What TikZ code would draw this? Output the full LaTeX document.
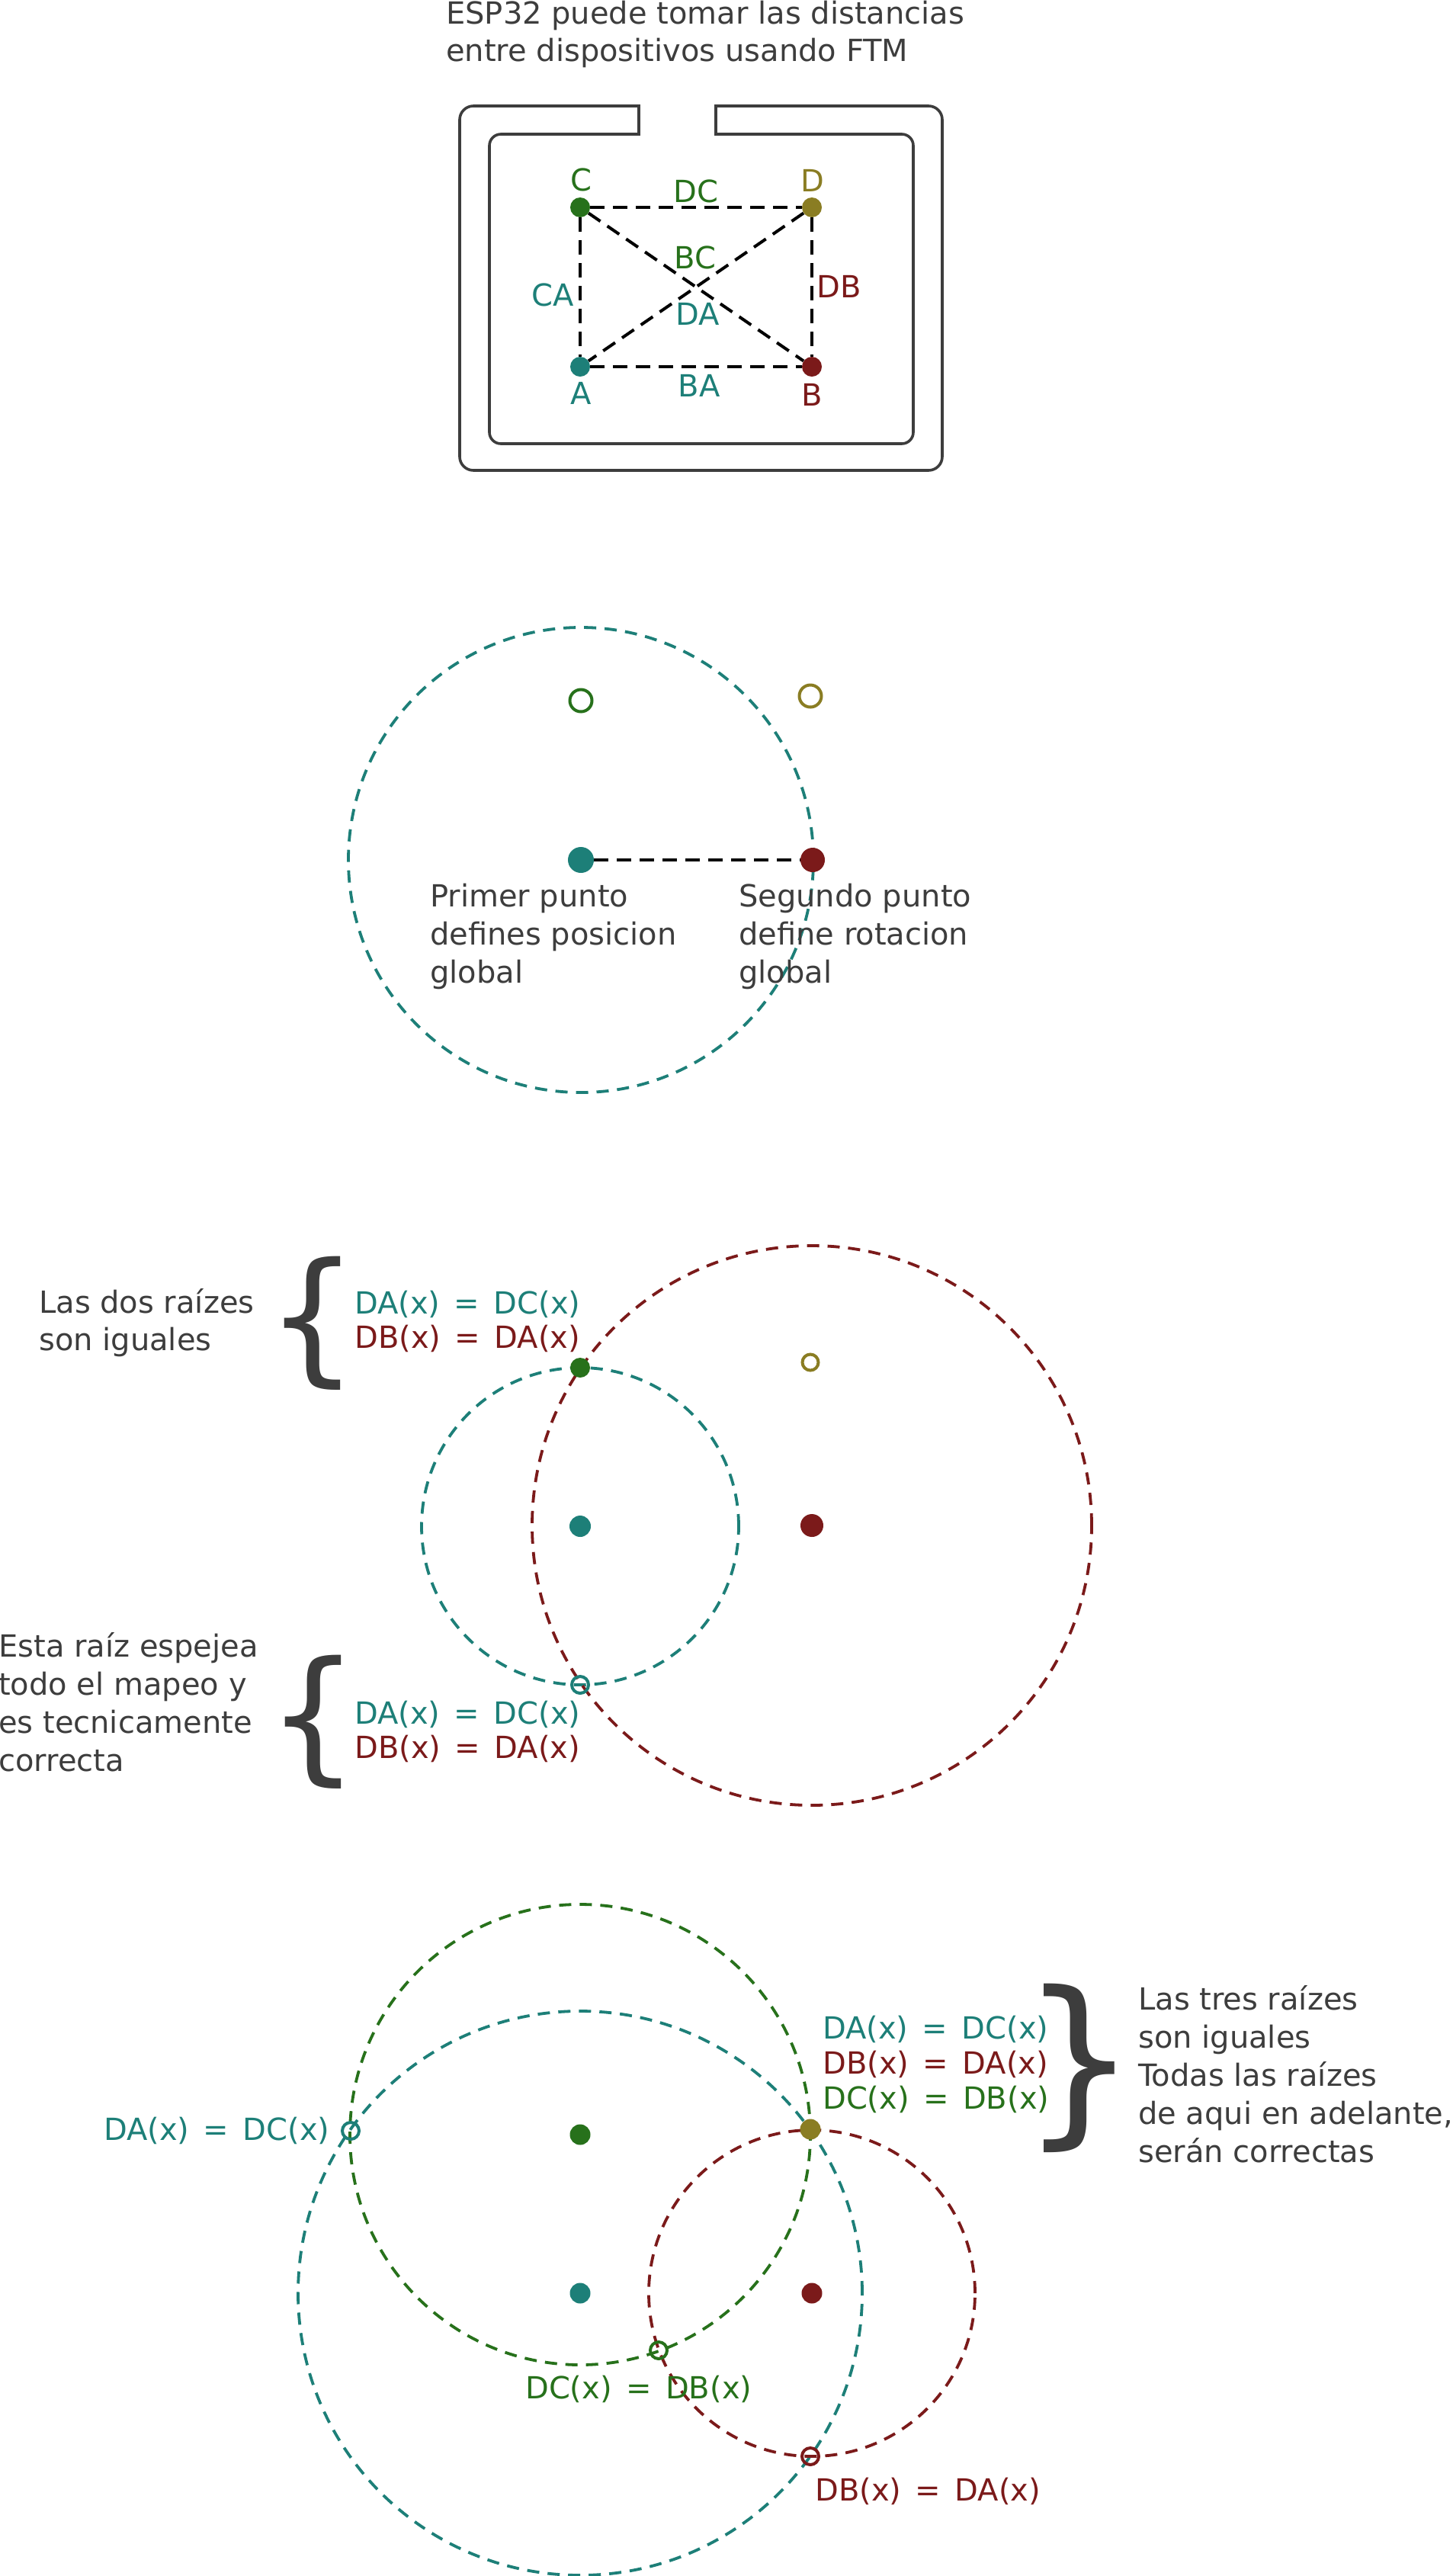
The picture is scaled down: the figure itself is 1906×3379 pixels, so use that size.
\documentclass[tikz,border=0pt]{standalone}
\usepackage{fontspec}
\setmainfont{DejaVu Sans}
\newfontfamily\eqfont[WordSpace=1.45]{DejaVu Sans}
\definecolor{cteal}{HTML}{1D7F78}
\definecolor{cred}{HTML}{7B1A1A}
\definecolor{cgreen}{HTML}{27711B}
\definecolor{colive}{HTML}{8A7D23}
\definecolor{cgray}{HTML}{3D3D3D}
\pgfdeclarelayer{bg}
\pgfsetlayers{bg,main}
\tikzset{
  txt/.style={inner sep=0pt, font=\fontsize{40}{50}\selectfont, text=cgray, anchor=base west},
  eq/.style={inner sep=0pt, font=\eqfont\fontsize{40}{50}\selectfont, anchor=base west},
  lbl/.style={inner sep=0pt, font=\fontsize{40}{50}\selectfont, anchor=center},
  dot/.style={circle, inner sep=0pt, minimum size=#1, draw=none},
  ring/.style={circle, inner sep=0pt, minimum size=#1, line width=4pt},
  cdash/.style={draw=black, line width=4pt, dash pattern=on 19pt off 11pt},
  circ/.style={line width=3.8pt, dash pattern=on 16pt off 11pt},
  bracel/.style={inner sep=0pt, text=cgray, font=\fontsize{190}{190}\selectfont, anchor=center},
  bracer/.style={inner sep=0pt, text=cgray, font=\fontsize{240}{240}\selectfont, anchor=center},
  frame/.style={draw=cgray, line width=3.6pt, line cap=rect}
}
\begin{document}
\begin{tikzpicture}[x=1pt, y=-1pt]
\useasboundingbox (0,0) rectangle (1906,3379);

% ---------- Section 1 ----------
\node[txt] (t1a) at (585,31) {ESP32 puede tomar las distancias};
\node[txt] (t1b) at (585,80) {entre dispositivos usando FTM};

\draw[frame, rounded corners=18pt] (838,139) -- (603,139) -- (603,617) -- (1236,617) -- (1236,139) -- (939,139);
\draw[frame, rounded corners=15pt] (939,176) -- (1198,176) -- (1198,582) -- (642,582) -- (642,176) -- (838,176);
\draw[frame] (838,139) -- (838,176);
\draw[frame] (939,139) -- (939,176);

\node[dot=26pt, fill=cgreen] (c1) at (761,272) {};
\node[dot=26pt, fill=colive] (d1) at (1065,272) {};
\node[dot=26pt, fill=cteal] (a1) at (761,481) {};
\node[dot=26pt, fill=cred] (b1) at (1065,481) {};
\begin{pgfonlayer}{bg}
\draw[cdash] (c1) -- (d1);
\draw[cdash] (c1) -- (a1);
\draw[cdash] (d1) -- (b1);
\draw[cdash] (a1) -- (b1);
\draw[cdash] (c1) -- (b1);
\draw[cdash] (d1) -- (a1);
\end{pgfonlayer}

\node[lbl, text=cgreen] (lc1) at (762,236) {C};
\node[lbl, text=colive] (ld1) at (1066,237) {D};
\node[lbl, text=cteal] (la1) at (762,516) {A};
\node[lbl, text=cred] (lb1) at (1065,518) {B};
\node[lbl, text=cgreen] (ldc) at (913,251) {DC};
\node[lbl, text=cgreen] (lbc) at (912,338) {BC};
\node[lbl, text=cteal] (lda) at (915,412) {DA};
\node[lbl, text=cteal] (lca) at (725,387) {CA};
\node[lbl, text=cred] (ldb) at (1101,376) {DB};
\node[lbl, text=cteal] (lba) at (917,506) {BA};

% ---------- Section 2 ----------
\node[dot=34pt, fill=cteal] (a2) at (762,1128) {};
\node[dot=32pt, fill=cred] (b2) at (1066,1128) {};
\node[ring=29pt, draw=cgreen] (c2) at (762,919) {};
\node[ring=29pt, draw=colive] (d2) at (1063,913) {};
\draw[cdash] (a2) -- (b2);
\begin{pgfonlayer}{bg}
\draw[circ, cteal] (a2.center) circle[radius=305pt];
\end{pgfonlayer}
\node[txt] (p1) at (564,1189) {Primer punto};
\node[txt] (p2) at (564,1239) {defines posicion};
\node[txt] (p3) at (564,1289) {global};
\node[txt] (s1) at (969,1189) {Segundo punto};
\node[txt] (s2) at (969,1239) {define rotacion};
\node[txt] (s3) at (969,1289) {global};

% ---------- Section 3 ----------
\node[dot=28pt, fill=cteal] (a3) at (761,2002) {};
\node[dot=30pt, fill=cred] (b3) at (1065,2001) {};
\node[dot=26pt, fill=cgreen] (c3) at (761,1794) {};
\node[ring=21pt, draw=colive] (d3) at (1063,1787) {};
\node[ring=22pt, draw=cteal] (m3) at (761,2210) {};
\begin{pgfonlayer}{bg}
\draw[circ, cteal] (a3.center) circle[radius=208pt];
\draw[circ, cred] (b3.center) circle[radius=367pt];
\end{pgfonlayer}
\node[bracel] (br1) at (410,1736) {\makebox[0pt]{\{}};
\node[bracel] (br2) at (411,2259) {\makebox[0pt]{\{}};
\node[txt] (r1) at (51,1722) {Las dos raízes};
\node[txt] (r2) at (51,1771) {son iguales};
\node[eq, text=cteal] (e1) at (465,1723) {DA(x) = DC(x)};
\node[eq, text=cred] (e2) at (465,1768) {DB(x) = DA(x)};
\node[txt] (q1) at (-2,2173) {Esta raíz espejea};
\node[txt] (q2) at (-2,2223) {todo el mapeo y};
\node[txt] (q3) at (-2,2273) {es tecnicamente};
\node[txt] (q4) at (-2,2323) {correcta};
\node[eq, text=cteal] (e3) at (465,2261) {DA(x) = DC(x)};
\node[eq, text=cred] (e4) at (465,2306) {DB(x) = DA(x)};

% ---------- Section 4 ----------
\node[dot=27pt, fill=cteal] (a4) at (761,3008) {};
\node[dot=27pt, fill=cred] (b4) at (1065,3008) {};
\node[dot=27pt, fill=cgreen] (c4) at (761,2800) {};
\node[dot=27pt, fill=colive] (d4) at (1063,2793) {};
\node[ring=22pt, draw=cteal] (m4a) at (460,2795) {};
\node[ring=22pt, draw=cgreen] (m4c) at (864,3083) {};
\node[ring=22pt, draw=cred] (m4b) at (1063,3222) {};
\begin{pgfonlayer}{bg}
\draw[circ, cteal] (a4.center) circle[radius=370pt];
\draw[circ, cgreen] (c4.center) circle[radius=302pt];
\draw[circ, cred] (b4.center) circle[radius=214pt];
\end{pgfonlayer}
\node[eq, text=cteal] (f1) at (1079,2674) {DA(x) = DC(x)};
\node[eq, text=cred] (f2) at (1079,2720) {DB(x) = DA(x)};
\node[eq, text=cgreen] (f3) at (1079,2766) {DC(x) = DB(x)};
\node[bracer] (br3) at (1416,2713) {\makebox[0pt]{\}}};
\node[txt] (u1) at (1493,2636) {Las tres raízes};
\node[txt] (u2) at (1493,2686) {son iguales};
\node[txt] (u3) at (1493,2736) {Todas las raízes};
\node[txt] (u4) at (1493,2786) {de aqui en adelante,};
\node[txt] (u5) at (1493,2836) {serán correctas};
\node[eq, text=cteal] (g1) at (136,2807) {DA(x) = DC(x)};
\node[eq, text=cgreen] (g2) at (689,3146) {DC(x) = DB(x)};
\node[eq, text=cred] (g3) at (1069,3280) {DB(x) = DA(x)};
\end{tikzpicture}
\end{document}
